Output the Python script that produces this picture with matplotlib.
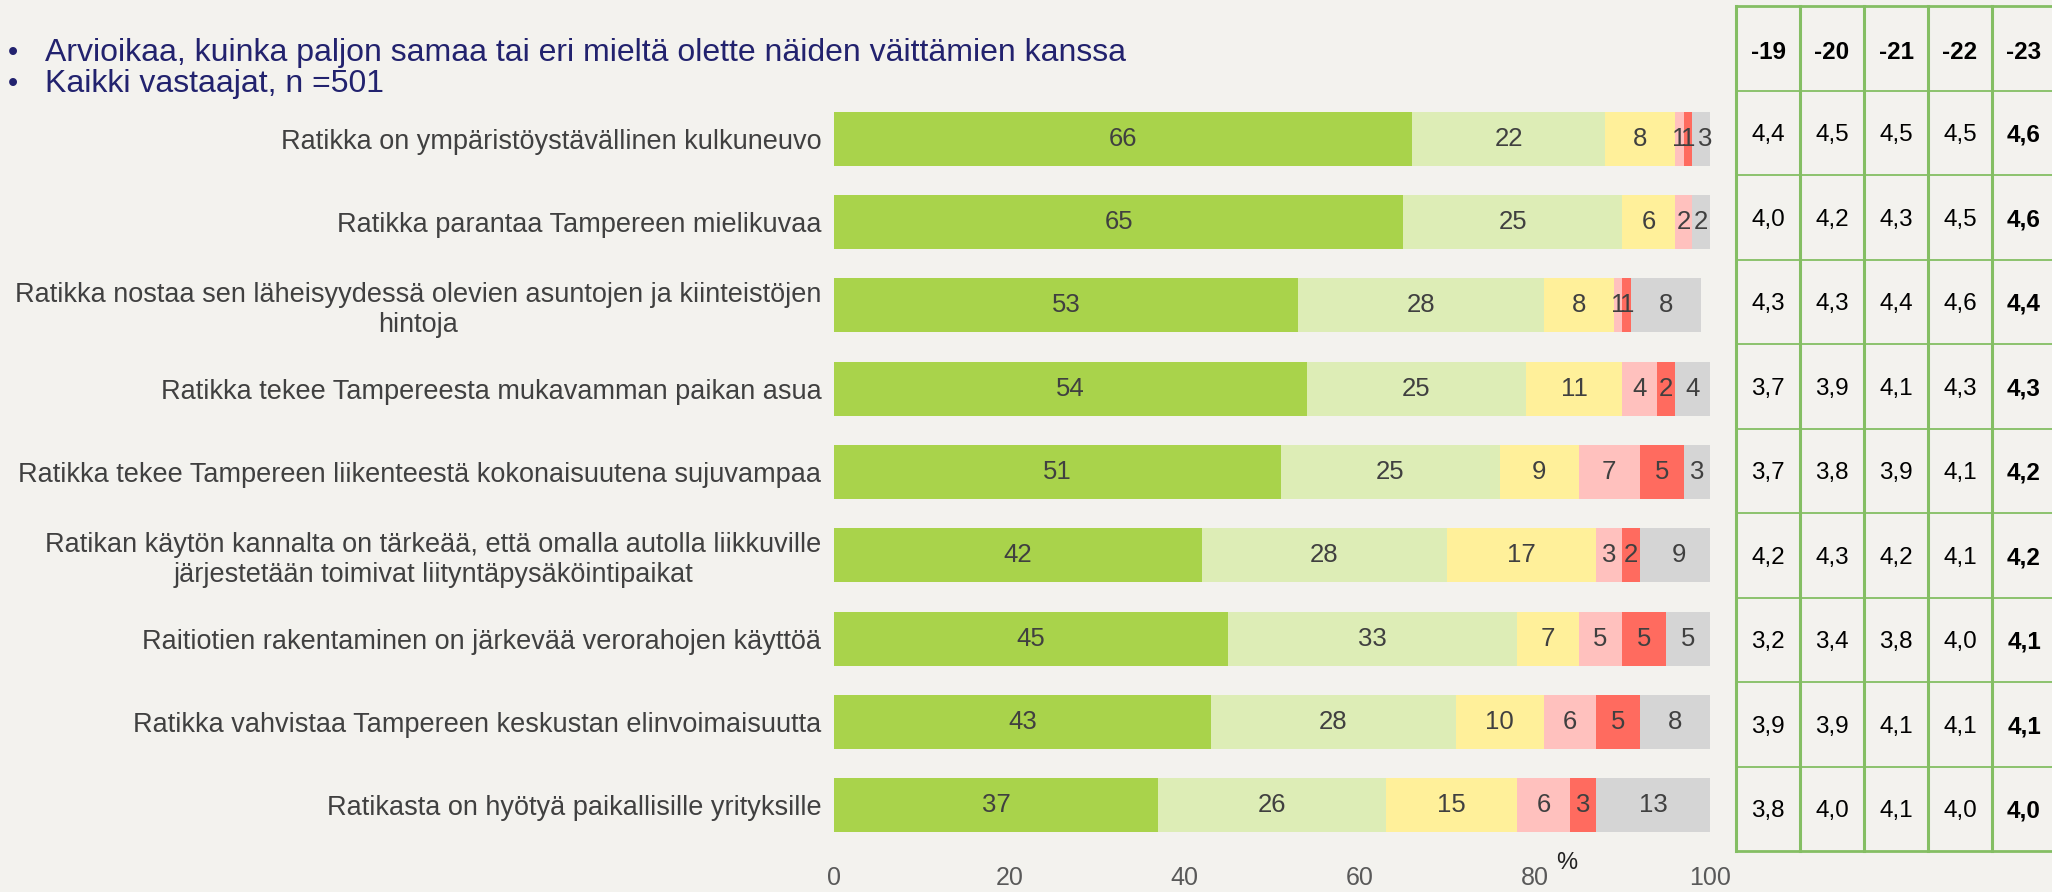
import numpy as np
import matplotlib
matplotlib.use("Agg")
import matplotlib.pyplot as plt

plt.rcParams['font.family'] = ['Liberation Sans', 'DejaVu Sans']

# väittämät
statements = [
    "Ratikka on ympäristöystävällinen kulkuneuvo",
    "Ratikka parantaa Tampereen mielikuvaa",
    "Ratikka nostaa sen läheisyydessä olevien asuntojen ja kiinteistöjen\nhintoja",
    "Ratikka tekee Tampereesta mukavamman paikan asua",
    "Ratikka tekee Tampereen liikenteestä kokonaisuutena sujuvampaa",
    "Ratikan käytön kannalta on tärkeää, että omalla autolla liikkuville\njärjestetään toimivat liityntäpysäköintipaikat",
    "Raitiotien rakentaminen on järkevää verorahojen käyttöä",
    "Ratikka vahvistaa Tampereen keskustan elinvoimaisuutta",
    "Ratikasta on hyötyä paikallisille yrityksille",
]

# jakaumat (%)
taysin_samaa = [66, 65, 53, 54, 51, 42, 45, 43, 37]
jokseenkin_samaa = [22, 25, 28, 25, 25, 28, 33, 28, 26]
ei_samaa_eika_eri = [8, 6, 8, 11, 9, 17, 7, 10, 15]
jokseenkin_eri = [1, 2, 1, 4, 7, 3, 5, 6, 6]
taysin_eri = [1, 0, 1, 2, 5, 2, 5, 5, 3]
eos = [3, 2, 8, 4, 3, 9, 5, 8, 13]

# keskiarvot vuosittain
years = ["-19", "-20", "-21", "-22", "-23"]
means = [
    ["4,4", "4,5", "4,5", "4,5", "4,6"],
    ["4,0", "4,2", "4,3", "4,5", "4,6"],
    ["4,3", "4,3", "4,4", "4,6", "4,4"],
    ["3,7", "3,9", "4,1", "4,3", "4,3"],
    ["3,7", "3,8", "3,9", "4,1", "4,2"],
    ["4,2", "4,3", "4,2", "4,1", "4,2"],
    ["3,2", "3,4", "3,8", "4,0", "4,1"],
    ["3,9", "3,9", "4,1", "4,1", "4,1"],
    ["3,8", "4,0", "4,1", "4,0", "4,0"],
]

series = [taysin_samaa, jokseenkin_samaa, ei_samaa_eika_eri, jokseenkin_eri, taysin_eri, eos]
colors = ["#A9D34B", "#DDEDB6", "#FFF09A", "#FFC1BE", "#FF6B5F", "#D5D5D5"]

bg = "#F3F2EE"
txt = "#404040"
W, H = 2052, 892

fig = plt.figure(figsize=(W / 100, H / 100), dpi=100, facecolor=bg)

# pylväskuvio
ax = fig.add_axes([834 / W, 1 - 847 / H, 876 / W, 750 / H], facecolor=bg)
y = np.arange(len(statements))
left = np.zeros(len(statements))
for vals, c in zip(series, colors):
    vals = np.array(vals)
    ax.barh(y, vals, left=left, height=0.65, color=c, edgecolor='none')
    for yi, (l, v) in enumerate(zip(left, vals)):
        if v > 0:
            ax.text(l + v / 2, yi, str(v), ha='center', va='center',
                    fontsize=18.5, color=txt)
    left += vals

ax.set_xlim(0, 100)
ax.set_ylim(len(statements) - 0.5, -0.5)
ax.set_xticks([0, 20, 40, 60, 80, 100])
ax.set_yticks(y)
ax.set_yticklabels(statements, fontsize=19.5, color=txt, multialignment='center')
ax.tick_params(axis='both', length=0)
ax.tick_params(axis='y', pad=9)
ax.tick_params(axis='x', pad=14, labelsize=18, labelcolor="#595959")
for s in ax.spines.values():
    s.set_visible(False)
ax.text(83.6, 8.83, "%", fontsize=17, color="#222222", ha='center', va='bottom',
        transform=ax.transData, clip_on=False)

# otsikko
navy = "#22226E"
fig.text(8 / W, 1 - 53 / H, "•", fontsize=21, color=navy, va='center')
fig.text(45 / W, 1 - 53 / H, "Arvioikaa, kuinka paljon samaa tai eri mieltä olette näiden väittämien kanssa",
         fontsize=23, color=navy, va='center')
fig.text(8 / W, 1 - 84 / H, "•", fontsize=21, color=navy, va='center')
fig.text(45 / W, 1 - 84 / H, "Kaikki vastaajat, n =501", fontsize=23, color=navy, va='center')

# keskiarvotaulukko
tab = fig.add_axes([1736 / W, 1 - 851 / H, 320 / W, 845 / H], facecolor=bg)
nrows = len(means) + 1
tab.set_xlim(0, 5)
tab.set_ylim(nrows, 0)
tab.axis('off')
green = "#84BE63"
for i in range(6):
    tab.plot([i, i], [0, nrows], color=green, lw=2.2, clip_on=False)
for j in range(nrows + 1):
    tab.plot([0, 5], [j, j], color=green, lw=1.3 if 0 < j < nrows else 2, clip_on=False)
for i, yr in enumerate(years):
    tab.text(i + 0.5, 0.55, yr, ha='center', va='center', fontsize=17.5,
             fontweight='bold', color='black')
for r, row in enumerate(means):
    for i, v in enumerate(row):
        tab.text(i + 0.5, r + 1.53, v, ha='center', va='center', fontsize=17.5,
                 fontweight='bold' if i == 4 else 'normal', color='black')

plt.savefig("out.png", dpi=100, facecolor=bg)
